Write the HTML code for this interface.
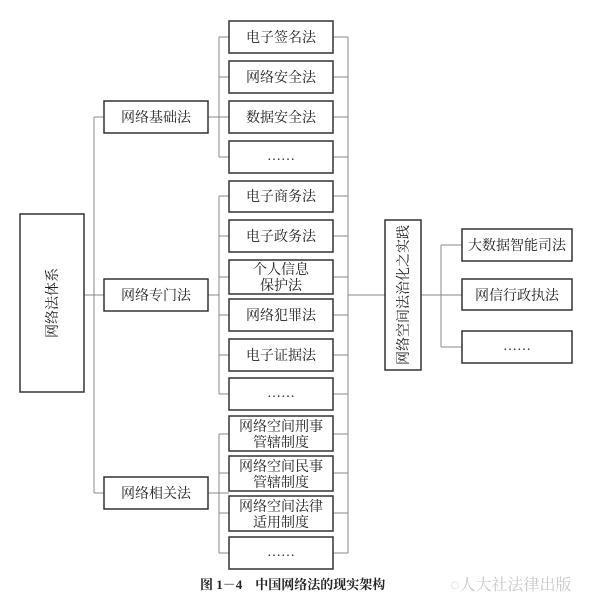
<!DOCTYPE html>
<html><head><meta charset="utf-8"><style>
body{margin:0;background:#fff;}
svg text{font-family:"Liberation Serif","Noto Serif CJK SC","Noto Sans CJK SC",serif;fill:#222;}
</style></head><body>
<svg width="600" height="607" viewBox="0 0 600 607" xmlns="http://www.w3.org/2000/svg">
<g stroke="#888" stroke-width="1" fill="none">
<path d="M84 295H94M94 117V493M94 117H104M94 295H104M94 493H104"/>
<path d="M208 117H219M219 37V157M219 37H229M219 77H229M219 117H229M219 157H229"/>
<path d="M208 295H219M219 196V394M219 196H229M219 236H229M219 277H229M219 315H229M219 355H229M219 394H229"/>
<path d="M208 493H219M219 434V553M219 434H229M219 473H229M219 493H229M219 513H229M219 553H229"/>
<path d="M333 37H348M333 77H348M333 117H348M333 157H348M333 196H348M333 236H348M333 277H348M333 315H348M333 355H348M333 394H348M333 434H348M333 473H348M333 513H348M333 553H348M348 37V553"/>
<path d="M348 295H385M421 295H462M441 245V347M441 245H462M441 347H462"/>
</g>
<g stroke="#333" stroke-width="1.5" fill="#fff">
<rect x="20" y="214" width="64" height="178"/>
<rect x="104" y="101" width="104" height="32"/>
<rect x="104" y="279" width="104" height="32"/>
<rect x="104" y="477" width="104" height="32"/>
<rect x="229" y="21" width="104" height="32"/>
<rect x="229" y="61" width="104" height="32"/>
<rect x="229" y="101" width="104" height="32"/>
<rect x="229" y="141" width="104" height="32"/>
<rect x="229" y="181" width="104" height="31"/>
<rect x="229" y="220" width="104" height="32"/>
<rect x="229" y="260" width="104" height="34"/>
<rect x="229" y="299" width="104" height="32"/>
<rect x="229" y="339" width="104" height="32"/>
<rect x="229" y="378" width="104" height="32"/>
<rect x="229" y="416" width="104" height="35"/>
<rect x="229" y="456" width="104" height="35"/>
<rect x="229" y="496" width="104" height="35"/>
<rect x="229" y="537" width="104" height="32"/>
<rect x="385" y="220" width="36" height="150"/>
<rect x="462" y="229" width="110" height="32"/>
<rect x="462" y="279" width="110" height="31"/>
<rect x="462" y="331" width="110" height="32"/>
</g>
<g font-size="14" text-anchor="middle">
<text x="156" y="122">网络基础法</text>
<text x="156" y="300">网络专门法</text>
<text x="156" y="498">网络相关法</text>
<text x="281" y="42">电子签名法</text>
<text x="281" y="82">网络安全法</text>
<text x="281" y="122">数据安全法</text>
<text x="281" y="160">……</text>
<text x="281" y="201">电子商务法</text>
<text x="281" y="241">电子政务法</text>
<text x="281" y="274">个人信息</text>
<text x="281" y="290">保护法</text>
<text x="281" y="320">网络犯罪法</text>
<text x="281" y="360">电子证据法</text>
<text x="281" y="397">……</text>
<text x="281" y="431">网络空间刑事</text>
<text x="281" y="447">管辖制度</text>
<text x="281" y="471">网络空间民事</text>
<text x="281" y="487">管辖制度</text>
<text x="281" y="511">网络空间法律</text>
<text x="281" y="527">适用制度</text>
<text x="281" y="556">……</text>
<text x="517" y="250">大数据智能司法</text>
<text x="517" y="300">网信行政执法</text>
<text x="517" y="350">……</text>
<text transform="translate(57,303) rotate(-90)">网络法体系</text>
<text transform="translate(408,295) rotate(-90)">网络空间法治化之实践</text>
</g>
<text x="200" y="589" font-size="13" font-weight="bold">图 1－4　中国网络法的现实架构</text>
<text x="450" y="590" font-size="16" style="fill:#c8c8c8">◌人大社法律出版</text>
</svg>
</body></html>
